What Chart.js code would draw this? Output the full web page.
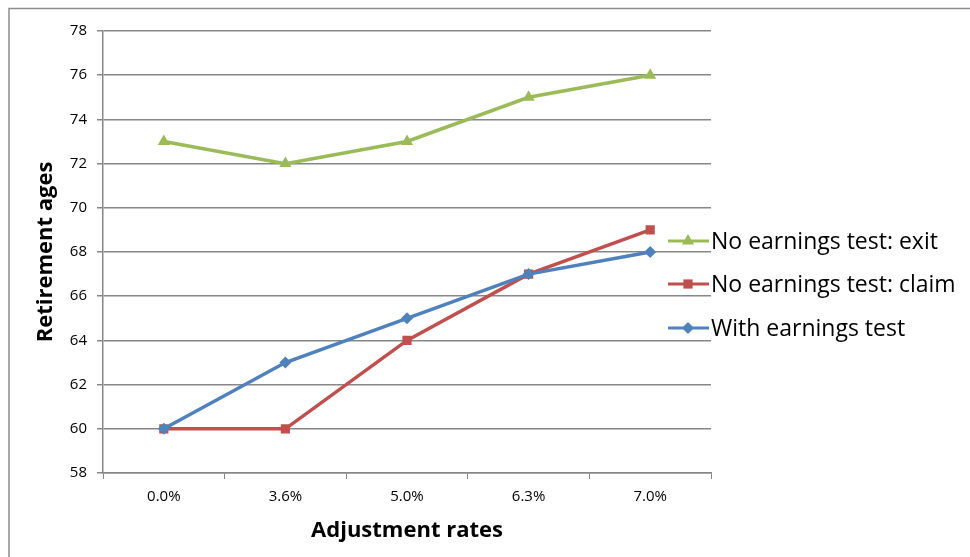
<!DOCTYPE html>
<html>
<head>
<meta charset="utf-8">
<script src="https://cdn.jsdelivr.net/npm/chart.js@4/dist/chart.umd.min.js"></script>
<style>
  body { margin: 0; background: #fff; }
  #wrap { width: 970px; height: 557px; }
</style>
</head>
<body>
<div id="wrap"><canvas id="chart" width="970" height="557"></canvas></div>
<script>
const categories = ['0.0%', '3.6%', '5.0%', '6.3%', '7.0%'];
const exitAges = [73, 72, 73, 75, 76];
const claimAges = [60, 60, 64, 67, 69];
const withTestAges = [60, 63, 65, 67, 68];
const yTicks = [58, 60, 62, 64, 66, 68, 70, 72, 74, 76, 78];

const FONT = '"Open Sans", Lato, sans-serif';
const GRID = '#878787';

// frame round the whole chart, like the excel chart border
const framePlugin = {
    id: 'frame',
    beforeDraw(chart) {
        const ctx = chart.ctx;
        ctx.save();
        ctx.strokeStyle = '#8c8c8c';
        ctx.lineWidth = 1.5;
        ctx.strokeRect(9, 8.5, 980, 580);
        ctx.restore();
    }
};

// legend on the right: short line with the marker on it, then the label
const legendPlugin = {
    id: 'sideLegend',
    afterDraw(chart) {
        const ctx = chart.ctx;
        const rows = [241, 284, 328];
        const order = [2, 1, 0];
        ctx.save();
        order.forEach((dsIndex, i) => {
            const ds = chart.data.datasets[dsIndex];
            const y = rows[i];
            ctx.strokeStyle = ds.borderColor;
            ctx.lineWidth = 3;
            ctx.beginPath();
            ctx.moveTo(668, y);
            ctx.lineTo(709, y);
            ctx.stroke();
            ctx.fillStyle = ds.borderColor;
            Chart.helpers.drawPoint(ctx, {
                pointStyle: ds.pointStyle,
                radius: ds.pointRadius,
                borderWidth: 0
            }, 688, y);
            ctx.fillStyle = '#000';
            ctx.font = '23px ' + FONT;
            ctx.textBaseline = 'middle';
            ctx.fillText(ds.label, 711, y + 1);
        });
        ctx.restore();
    }
};

const chartConfig = {
    type: 'line',
    data: {
        labels: categories,
        datasets: [
            {
                label: 'With earnings test',
                data: withTestAges,
                borderColor: '#4F81BD',
                backgroundColor: '#4F81BD',
                borderWidth: 3.5,
                pointStyle: 'rectRot',
                pointRadius: 6,
                pointBorderWidth: 0,
                tension: 0
            },
            {
                label: 'No earnings test: claim',
                data: claimAges,
                borderColor: '#C0504D',
                backgroundColor: '#C0504D',
                borderWidth: 3.5,
                pointStyle: 'rect',
                pointRadius: 6.5,
                pointBorderWidth: 0,
                tension: 0
            },
            {
                label: 'No earnings test: exit',
                data: exitAges,
                borderColor: '#9BBB59',
                backgroundColor: '#9BBB59',
                borderWidth: 3.5,
                pointStyle: 'triangle',
                pointRadius: 7,
                pointBorderWidth: 0,
                tension: 0
            }
        ]
    },
    options: {
        responsive: false,
        animation: false,
        layout: { padding: { top: 31, right: 259, left: 0, bottom: 0 } },
        plugins: {
            legend: { display: false },
            tooltip: { enabled: false }
        },
        scales: {
            x: {
                offset: true,
                grid: {
                    offset: true,
                    drawOnChartArea: false,
                    drawTicks: true,
                    tickLength: 6,
                    color: GRID
                },
                border: { color: GRID, width: 1.5 },
                ticks: {
                    color: '#000',
                    padding: 9,
                    maxRotation: 0,
                    font: { family: FONT, size: 15 }
                },
                title: {
                    display: true,
                    text: 'Adjustment rates',
                    color: '#000',
                    padding: { bottom: 13 },
                    font: { family: FONT, size: 22, weight: 'bold' }
                },
                afterFit(scale) { scale.height = 84; }
            },
            y: {
                min: 58,
                max: 78,
                afterBuildTicks(scale) {
                    scale.ticks = yTicks.map(v => ({ value: v }));
                },
                grid: {
                    color: GRID,
                    lineWidth: 1.5,
                    tickLength: 6
                },
                border: { color: GRID, width: 1.5 },
                ticks: {
                    color: '#000',
                    padding: 10,
                    font: { family: FONT, size: 15 }
                },
                title: {
                    display: true,
                    text: 'Retirement ages',
                    color: '#000',
                    padding: { top: 33 },
                    font: { family: FONT, size: 22, weight: 'bold' }
                },
                afterFit(scale) { scale.width = 103; }
            }
        }
    },
    plugins: [framePlugin, legendPlugin]
};

const canvas = document.getElementById('chart');
const ctx = canvas.getContext('2d');
new Chart(ctx, chartConfig);
</script>
</body>
</html>
